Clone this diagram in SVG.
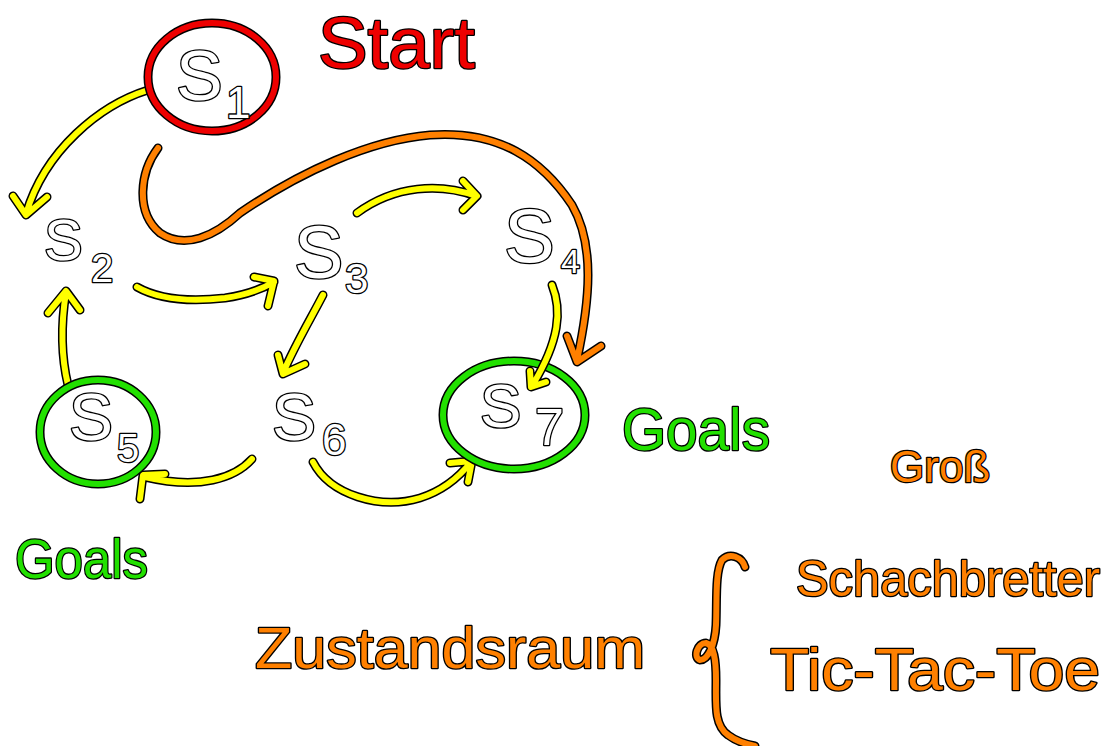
<svg xmlns="http://www.w3.org/2000/svg" xmlns:xlink="http://www.w3.org/1999/xlink" width="1120" height="746" viewBox="0 0 1120 746">
  <style>
    .ol { fill: none; stroke: #000; stroke-width: 9; stroke-linecap: round; stroke-linejoin: round; }
    .yl { fill: none; stroke: #ffff00; stroke-width: 6; stroke-linecap: round; stroke-linejoin: round; }
    .or { fill: none; stroke: #ff8000; stroke-width: 6; stroke-linecap: round; stroke-linejoin: round; }
    .rd { fill: none; stroke: #ee0000; stroke-width: 6; }
    .gr { fill: none; stroke: #22e000; stroke-width: 6; }
    .ring { fill: none; stroke: #000; stroke-width: 9; }
    text { font-family: "Liberation Sans", "DejaVu Sans", sans-serif; stroke: #000; stroke-width: 2.6; paint-order: stroke; stroke-linejoin: round; }
    .st { fill: #fff; }
    .tRed { fill: #ee0000; }
    .tGreen { fill: #22e000; }
    .tOrange { fill: #ff8000; }
  </style>
  <defs>
    <!-- connector shapes, each drawn twice: black outline then coloured stroke -->
    <path id="c12" d="M148,90 C100,105 45,150 26,214 M13,196 L26,215 L47,197"/>
    <path id="c17" d="M158,148 C140,172 135,212 160,233 C185,250 215,236 240,213 C300,172 370,140 430,135 C500,130 542,160 572,205 C595,245 590,300 577,360 M567,336 L577,362 L601,346"/>
    <path id="c34" d="M357,213 C395,185 440,183 476,196 M463,181 L477,196 L463,210"/>
    <path id="c23" d="M137,287 C160,300 190,302 225,298 C245,295 262,289 274,282 M254,277 L274,281 L268,306"/>
    <path id="c52" d="M68,385 C62,360 60,330 66,292 M48,313 L66,291 L80,310"/>
    <path id="c36" d="M323,295 C310,320 295,345 283,373 M278,355 L283,374 L305,364"/>
    <path id="c47" d="M552,285 C562,310 560,340 532,386 M530,371 L531,387 L546,382"/>
    <path id="c65" d="M252,459 C235,478 200,490 145,477 M140,499 L143,475 L165,474"/>
    <path id="c67" d="M313,462 C330,495 380,510 420,498 C445,490 460,476 471,462 M450,463 L472,461 L468,482"/>
    <path id="brace" d="M745,567 C742,557 730,552 722,560 C715,572 717,600 716,625 C715,645 708,660 700,660 C693,658 697,643 706,643 C714,645 716,660 716,680 C716,705 714,725 728,735 C736,741 745,744 755,746"/>
  </defs>

  <g id="connectors">
    <use xlink:href="#c17" class="ol"/><use xlink:href="#c17" class="or"/>
    <use xlink:href="#c12" class="ol"/><use xlink:href="#c12" class="yl"/>
    <use xlink:href="#c34" class="ol"/><use xlink:href="#c34" class="yl"/>
    <use xlink:href="#c23" class="ol"/><use xlink:href="#c23" class="yl"/>
    <use xlink:href="#c52" class="ol"/><use xlink:href="#c52" class="yl"/>
    <use xlink:href="#c36" class="ol"/><use xlink:href="#c36" class="yl"/>
    <use xlink:href="#c65" class="ol"/><use xlink:href="#c65" class="yl"/>
    <use xlink:href="#c67" class="ol"/><use xlink:href="#c67" class="yl"/>
  </g>

  <g id="s1">
    <ellipse cx="212" cy="77" rx="64" ry="54" class="ring"/>
    <ellipse cx="212" cy="77" rx="64" ry="54" class="rd"/>
    <text x="176" y="100" font-size="70" class="st">S</text>
    <text x="226" y="118" font-size="44" class="st">1</text>
  </g>
  <g id="s2">
    <text x="44" y="260" font-size="58" class="st">S</text>
    <text x="91" y="282" font-size="40" class="st">2</text>
  </g>
  <g id="s3">
    <text x="294" y="278" font-size="74" class="st">S</text>
    <text x="345" y="293" font-size="42" class="st">3</text>
  </g>
  <g id="s4">
    <text x="504" y="262" font-size="76" class="st">S</text>
    <text x="561" y="273" font-size="34" class="st">4</text>
  </g>
  <g id="s5">
    <ellipse cx="98" cy="432" rx="58" ry="52" class="ring"/>
    <ellipse cx="98" cy="432" rx="58" ry="52" class="gr"/>
    <text x="69" y="440" font-size="66" class="st">S</text>
    <text x="117" y="462" font-size="40" class="st">5</text>
  </g>
  <g id="s6">
    <text x="272" y="440" font-size="66" class="st">S</text>
    <text x="322" y="455" font-size="44" class="st">6</text>
  </g>
  <g id="s7">
    <ellipse cx="514" cy="415" rx="71" ry="54" class="ring"/>
    <ellipse cx="514" cy="415" rx="71" ry="54" class="gr"/>
    <text x="480" y="427" font-size="62" class="st">S</text>
    <text x="535" y="445" font-size="52" class="st">7</text>
  </g>
  <!-- arrow into S7 drawn above its ring -->
  <g id="connector-s4-s7">
    <use xlink:href="#c47" class="ol"/><use xlink:href="#c47" class="yl"/>
  </g>

  <g id="labels">
    <text x="318" y="68" font-size="72" textLength="157" lengthAdjust="spacingAndGlyphs" class="tRed">Start</text>
    <text x="622" y="450" font-size="60" textLength="148" lengthAdjust="spacingAndGlyphs" class="tGreen">Goals</text>
    <text x="15" y="578" font-size="56" textLength="133" lengthAdjust="spacingAndGlyphs" class="tGreen">Goals</text>
    <text x="890" y="482" font-size="44" class="tOrange">Groß</text>
    <text x="796" y="596" font-size="50" textLength="304" lengthAdjust="spacingAndGlyphs" class="tOrange">Schachbretter</text>
    <text x="770" y="690" font-size="60" textLength="330" lengthAdjust="spacingAndGlyphs" class="tOrange">Tic-Tac-Toe</text>
    <text x="255" y="668" font-size="58" textLength="390" lengthAdjust="spacingAndGlyphs" class="tOrange">Zustandsraum</text>
  </g>

  <g id="brace-group">
    <use xlink:href="#brace" class="ol"/><use xlink:href="#brace" class="or"/>
  </g>
</svg>
